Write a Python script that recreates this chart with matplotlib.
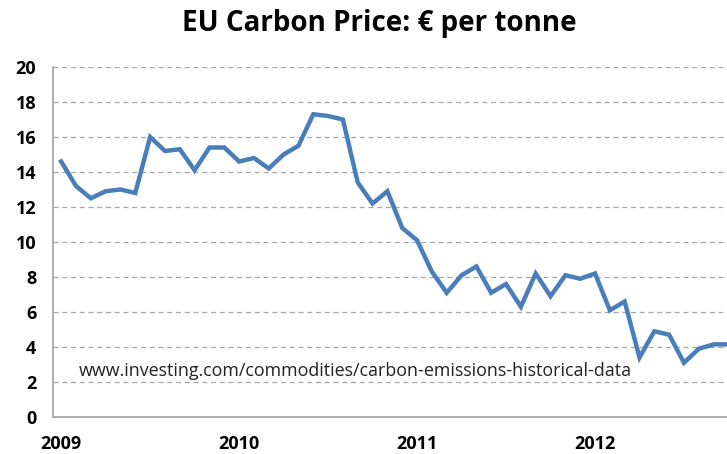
import numpy as np
import matplotlib.pyplot as plt

# Monthly EU carbon price, Jan 2009 onward
prices = [14.6, 13.2, 12.5, 12.9, 13.0, 12.8, 16.0, 15.2, 15.3, 14.1, 15.4, 15.4,
          14.6, 14.8, 14.2, 15.0, 15.5, 17.3, 17.2, 17.0, 13.4, 12.2, 12.9, 10.8,
          10.1, 8.3, 7.1, 8.1, 8.6, 7.1, 7.6, 6.3, 8.2, 6.9, 8.1, 7.9,
          8.2, 6.1, 6.6, 3.4, 4.9, 4.7, 3.1, 3.9, 4.15, 4.15]
year_labels = ['2009', '2010', '2011', '2012']
y_ticks = [0, 2, 4, 6, 8, 10, 12, 14, 16, 18, 20]

title = 'EU Carbon Price: € per tonne'
source = 'www.investing.com/commodities/carbon-emissions-historical-data'

plt.rcParams['font.family'] = ['Open Sans', 'DejaVu Sans']

fig = plt.figure(figsize=(7.27, 4.54), dpi=100)
ax = fig.add_axes([53 / 727, 37 / 454, 674 / 727, 350 / 454])

months = np.arange(len(prices))
ax.plot(months, prices, color='#4A7EBB', linewidth=3.2, solid_joinstyle='miter', zorder=3)

ax.set_xlim(-0.55, 44.9)
ax.set_ylim(0, 20)
ax.set_yticks(y_ticks)
ax.set_yticklabels([str(t) for t in y_ticks], fontsize=13, fontweight='bold')
ax.set_xticks(np.arange(len(year_labels)) * 12)
ax.set_xticklabels(year_labels, fontsize=13, fontweight='bold')
ax.tick_params(axis='both', length=0)
ax.tick_params(axis='y', pad=12)
ax.tick_params(axis='x', pad=13)

ax.grid(axis='y', color='#A6A6A6', linestyle=(0, (4, 3)), linewidth=0.9)
ax.set_axisbelow(True)
for side in ['top', 'right']:
    ax.spines[side].set_visible(False)
for side in ['left', 'bottom']:
    ax.spines[side].set_color('#A0A0A0')
    ax.spines[side].set_linewidth(1.2)

ax.text(1.2, 2.6, source, fontsize=12.9, color='#222222', ha='left', va='center')

fig.text(0.522, 0.948, title, fontsize=20, fontweight='bold', ha='center', va='center')

fig.savefig('out.png', dpi=100)
